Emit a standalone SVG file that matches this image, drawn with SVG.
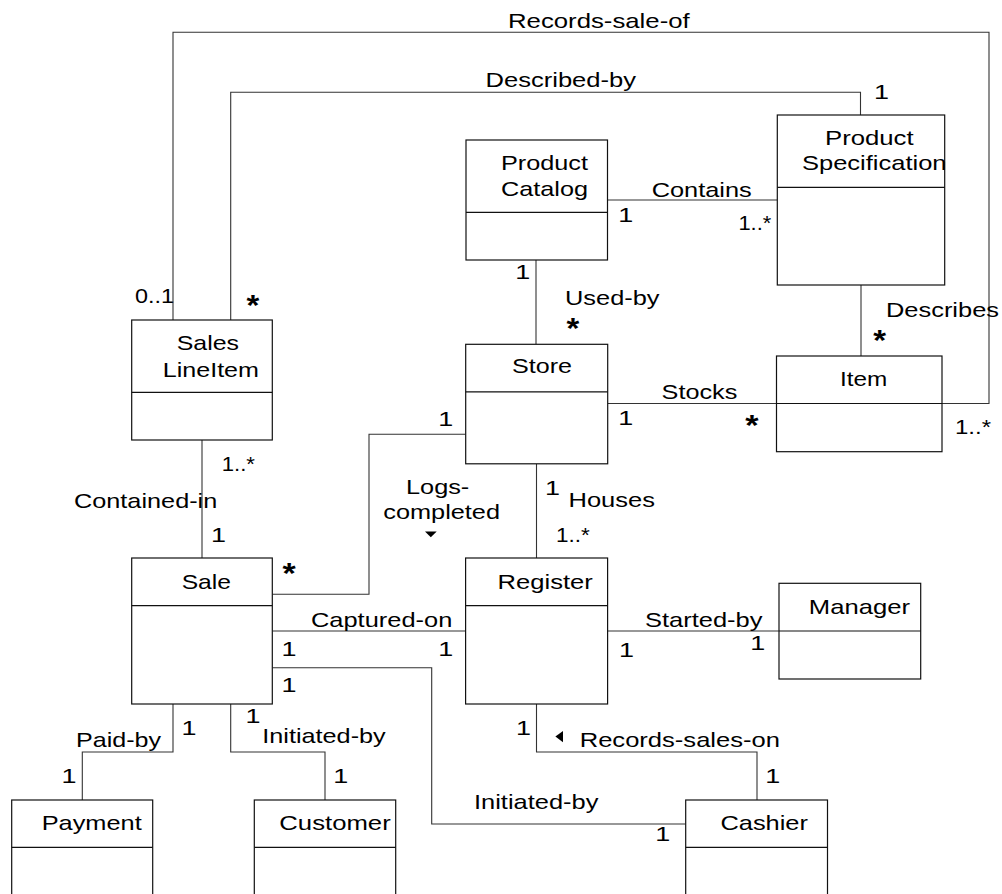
<svg xmlns="http://www.w3.org/2000/svg" width="1002" height="894" viewBox="0 0 1002 894">
<style>
.box{fill:#fff;stroke:#111;stroke-width:1.2}
.div{stroke:#111;stroke-width:1.2}
.conn{fill:none;stroke:#333;stroke-width:1.1}
text{font-family:"Liberation Sans",Arial,sans-serif;font-size:21px;fill:#000}
.star{font-size:30px;font-weight:bold}
.tri{fill:#000}
</style>
<rect width="1002" height="894" fill="#fff"/>
<g id="connectors">
<polyline class="conn" points="173,320 173,32.3 989,32.3 989,403.5 942,403.5"/>
<polyline class="conn" points="230.7,320 230.7,92.3 860.5,92.3 860.5,115"/>
<polyline class="conn" points="607.5,200 777.3,200"/>
<polyline class="conn" points="536,260 536,344.3"/>
<polyline class="conn" points="861,285 861,356"/>
<polyline class="conn" points="607.7,403.5 776.5,403.5"/>
<polyline class="conn" points="272.3,594.3 369,594.3 369,434.3 465.7,434.3"/>
<polyline class="conn" points="536.5,463.8 536.5,558"/>
<polyline class="conn" points="202,440 202,558"/>
<polyline class="conn" points="272.3,631 465.6,631"/>
<polyline class="conn" points="607.6,631 779,631"/>
<polyline class="conn" points="272.3,667.7 431.7,667.7 431.7,824 685.7,824"/>
<polyline class="conn" points="173,704 173,752 82.3,752 82.3,800"/>
<polyline class="conn" points="230.7,704 230.7,752 325,752 325,800"/>
<polyline class="conn" points="536.5,704 536.5,752 757,752 757,800"/>
<polygon class="tri" points="425,531.5 436.7,531.5 430.8,537.3"/>
<polygon class="tri" points="563,731 563,742.3 555.4,736.6"/>
<text x="508" y="28.3" textLength="181.7" lengthAdjust="spacingAndGlyphs">Records-sale-of</text>
<text x="485.5" y="87.3" textLength="150.5" lengthAdjust="spacingAndGlyphs">Described-by</text>
<text x="874" y="98.7" textLength="15" lengthAdjust="spacingAndGlyphs">1</text>
<text x="651.7" y="196.7" textLength="100.1" lengthAdjust="spacingAndGlyphs">Contains</text>
<text x="618.2" y="221.7" textLength="15" lengthAdjust="spacingAndGlyphs">1</text>
<text x="738.4" y="230" textLength="32.9" lengthAdjust="spacingAndGlyphs">1..*</text>
<text x="515.2" y="279" textLength="15" lengthAdjust="spacingAndGlyphs">1</text>
<text x="565" y="305" textLength="94.5" lengthAdjust="spacingAndGlyphs">Used-by</text>
<text class="star" x="566.5" y="338" textLength="12.8" lengthAdjust="spacingAndGlyphs">*</text>
<text x="886" y="317.3" textLength="113" lengthAdjust="spacingAndGlyphs">Describes</text>
<text class="star" x="873.3" y="349.5" textLength="12.8" lengthAdjust="spacingAndGlyphs">*</text>
<text x="135" y="303.3" textLength="39" lengthAdjust="spacingAndGlyphs">0..1</text>
<text class="star" x="246.5" y="314.5" textLength="12.8" lengthAdjust="spacingAndGlyphs">*</text>
<text x="661.6" y="399" textLength="75.7" lengthAdjust="spacingAndGlyphs">Stocks</text>
<text x="618.2" y="425" textLength="15" lengthAdjust="spacingAndGlyphs">1</text>
<text class="star" x="745.3" y="434.5" textLength="13.3" lengthAdjust="spacingAndGlyphs">*</text>
<text x="955" y="434.3" textLength="36" lengthAdjust="spacingAndGlyphs">1..*</text>
<text x="438.2" y="426" textLength="15" lengthAdjust="spacingAndGlyphs">1</text>
<text x="221.7" y="470.7" textLength="33.3" lengthAdjust="spacingAndGlyphs">1..*</text>
<text x="74" y="508.3" textLength="143.3" lengthAdjust="spacingAndGlyphs">Contained-in</text>
<text x="210.9" y="542.3" textLength="15" lengthAdjust="spacingAndGlyphs">1</text>
<text class="star" x="282.5" y="583" textLength="13.2" lengthAdjust="spacingAndGlyphs">*</text>
<text x="406" y="494" textLength="63.3" lengthAdjust="spacingAndGlyphs">Logs-</text>
<text x="383.3" y="519.3" textLength="116.7" lengthAdjust="spacingAndGlyphs">completed</text>
<text x="545.1" y="495" textLength="15" lengthAdjust="spacingAndGlyphs">1</text>
<text x="568.5" y="507.3" textLength="86.5" lengthAdjust="spacingAndGlyphs">Houses</text>
<text x="556" y="541.7" textLength="33.8" lengthAdjust="spacingAndGlyphs">1..*</text>
<text x="311" y="626.7" textLength="141.3" lengthAdjust="spacingAndGlyphs">Captured-on</text>
<text x="281.5" y="656" textLength="15" lengthAdjust="spacingAndGlyphs">1</text>
<text x="438.2" y="656" textLength="15" lengthAdjust="spacingAndGlyphs">1</text>
<text x="281.5" y="691.7" textLength="15" lengthAdjust="spacingAndGlyphs">1</text>
<text x="645" y="626.7" textLength="117.5" lengthAdjust="spacingAndGlyphs">Started-by</text>
<text x="618.9" y="656.7" textLength="15" lengthAdjust="spacingAndGlyphs">1</text>
<text x="750.2" y="650" textLength="15" lengthAdjust="spacingAndGlyphs">1</text>
<text x="181.5" y="735" textLength="15" lengthAdjust="spacingAndGlyphs">1</text>
<text x="76" y="746.7" textLength="85" lengthAdjust="spacingAndGlyphs">Paid-by</text>
<text x="61.5" y="782.7" textLength="15" lengthAdjust="spacingAndGlyphs">1</text>
<text x="245.5" y="722.7" textLength="15" lengthAdjust="spacingAndGlyphs">1</text>
<text x="262.3" y="743.3" textLength="123.4" lengthAdjust="spacingAndGlyphs">Initiated-by</text>
<text x="333.2" y="782.7" textLength="15" lengthAdjust="spacingAndGlyphs">1</text>
<text x="516" y="735" textLength="15" lengthAdjust="spacingAndGlyphs">1</text>
<text x="579.7" y="747.3" textLength="200.3" lengthAdjust="spacingAndGlyphs">Records-sales-on</text>
<text x="765.2" y="782.7" textLength="15" lengthAdjust="spacingAndGlyphs">1</text>
<text x="474" y="809" textLength="124.4" lengthAdjust="spacingAndGlyphs">Initiated-by</text>
<text x="655.2" y="841" textLength="15" lengthAdjust="spacingAndGlyphs">1</text>
</g>
<g id="ProductCatalog">
<rect class="box" x="466" y="140" width="141.5" height="120"/>
<line class="div" x1="466" y1="212.3" x2="607.5" y2="212.3"/>
<text x="501" y="170" textLength="87" lengthAdjust="spacingAndGlyphs">Product</text>
<text x="501" y="195.7" textLength="87" lengthAdjust="spacingAndGlyphs">Catalog</text>
</g>
<g id="ProductSpecification">
<rect class="box" x="777.3" y="115" width="167.4" height="170"/>
<line class="div" x1="777.3" y1="187.3" x2="944.7" y2="187.3"/>
<text x="825" y="145" textLength="88.6" lengthAdjust="spacingAndGlyphs">Product</text>
<text x="802" y="170" textLength="144.5" lengthAdjust="spacingAndGlyphs">Specification</text>
</g>
<g id="SalesLineItem">
<rect class="box" x="131.7" y="320" width="140.6" height="120"/>
<line class="div" x1="131.7" y1="392.3" x2="272.3" y2="392.3"/>
<text x="176.7" y="350" textLength="62.3" lengthAdjust="spacingAndGlyphs">Sales</text>
<text x="162.7" y="376.7" textLength="96.3" lengthAdjust="spacingAndGlyphs">LineItem</text>
</g>
<g id="Store">
<rect class="box" x="465.7" y="344.3" width="142" height="119.5"/>
<line class="div" x1="465.7" y1="391.8" x2="607.7" y2="391.8"/>
<text x="512" y="373.3" textLength="60" lengthAdjust="spacingAndGlyphs">Store</text>
</g>
<g id="Item">
<rect class="box" x="776.5" y="356" width="165.5" height="95.7"/>
<line class="div" x1="776.5" y1="403.5" x2="942" y2="403.5"/>
<text x="840" y="385.7" textLength="47.3" lengthAdjust="spacingAndGlyphs">Item</text>
</g>
<g id="Sale">
<rect class="box" x="131.7" y="558" width="140.6" height="146"/>
<line class="div" x1="131.7" y1="605.7" x2="272.3" y2="605.7"/>
<text x="181.7" y="589.3" textLength="49.3" lengthAdjust="spacingAndGlyphs">Sale</text>
</g>
<g id="Register">
<rect class="box" x="465.6" y="558" width="142" height="146"/>
<line class="div" x1="465.6" y1="605.7" x2="607.6" y2="605.7"/>
<text x="497.6" y="589.3" textLength="95.2" lengthAdjust="spacingAndGlyphs">Register</text>
</g>
<g id="Manager">
<rect class="box" x="779" y="583.3" width="141.7" height="95.7"/>
<line class="div" x1="779" y1="631" x2="920.7" y2="631"/>
<text x="808.8" y="614" textLength="101.2" lengthAdjust="spacingAndGlyphs">Manager</text>
</g>
<g id="Payment">
<rect class="box" x="11.7" y="800" width="141" height="110"/>
<line class="div" x1="11.7" y1="847.3" x2="152.7" y2="847.3"/>
<text x="41.7" y="830" textLength="100" lengthAdjust="spacingAndGlyphs">Payment</text>
</g>
<g id="Customer">
<rect class="box" x="254.3" y="800" width="141.4" height="110"/>
<line class="div" x1="254.3" y1="847.3" x2="395.7" y2="847.3"/>
<text x="279.3" y="830" textLength="111.4" lengthAdjust="spacingAndGlyphs">Customer</text>
</g>
<g id="Cashier">
<rect class="box" x="685.7" y="800" width="141.8" height="110"/>
<line class="div" x1="685.7" y1="847.3" x2="827.5" y2="847.3"/>
<text x="720.4" y="830" textLength="87.6" lengthAdjust="spacingAndGlyphs">Cashier</text>
</g>
</svg>
